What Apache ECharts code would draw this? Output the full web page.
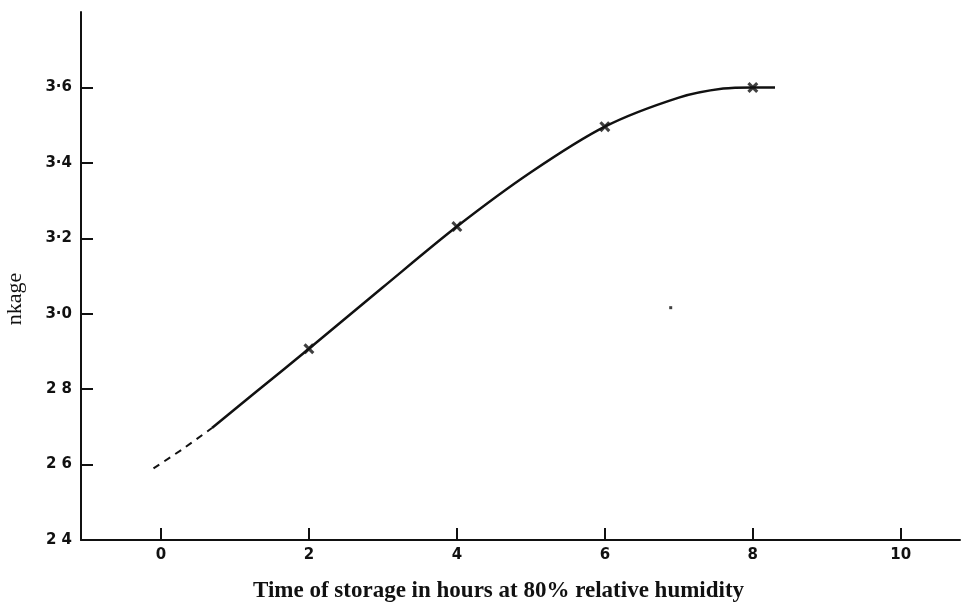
<!DOCTYPE html>
<html>
<head>
<meta charset="utf-8">
<script src="https://cdn.jsdelivr.net/npm/echarts@6/dist/echarts.min.js"></script>
<style>html,body{margin:0;padding:0;background:#fff;}#c{width:961px;height:607px;}</style>
</head>
<body>
<div id="c"></div>
<script>
// Data
const xTicks = [0, 2, 4, 6, 8, 10];
const yTicks = [2.4, 2.6, 2.8, 3.0, 3.2, 3.4, 3.6];
const yTickLabels = ['2 4', '2 6', '2 8', '3·0', '3·2', '3·4', '3·6'];
const curveDashedX = [-0.1, 0.3, 0.69];
const curveDashedY = [2.59, 2.642, 2.697];
const curveX = [0.69, 1.3, 2, 3, 4, 5, 6, 7, 7.6, 8, 8.3];
const curveY = [2.697, 2.795, 2.907, 3.07, 3.231, 3.375, 3.496, 3.573, 3.597, 3.6, 3.6];
const markerX = [2, 4, 6, 8];
const markerY = [2.907, 3.231, 3.496, 3.6];
const speckX = [6.89];
const speckY = [3.016];
const xTitle = 'Time of storage in hours at 80% relative humidity';
const yTitle = 'nkage';

const pairs = (xs, ys) => xs.map((x, i) => [x, ys[i]]);
const crossPath = 'path://M0,2 L2,0 L5,3 L8,0 L10,2 L7,5 L10,8 L8,10 L5,7 L2,10 L0,8 L3,5 Z';

const chart = echarts.init(document.getElementById('c'), null, {renderer: 'canvas'});
chart.setOption({
  animation: false,
  backgroundColor: '#ffffff',
  grid: {left: 81, right: 1, top: 12, bottom: 67, containLabel: false},
  xAxis: {
    type: 'value', min: -1.08, max: 10.8,
    axisLine: {show: true, onZero: false, lineStyle: {color: '#111', width: 2}},
    axisTick: {show: true, inside: true, length: 12, customValues: xTicks, lineStyle: {color: '#111', width: 2}},
    axisLabel: {customValues: xTicks, margin: 8, color: '#111', fontSize: 15, fontWeight: 'bold', fontFamily: 'DejaVu Sans'},
    splitLine: {show: false}
  },
  yAxis: {
    type: 'value', min: 2.4, max: 3.8,
    axisLine: {show: true, onZero: false, lineStyle: {color: '#111', width: 2}},
    axisTick: {show: true, inside: true, length: 12, customValues: yTicks, lineStyle: {color: '#111', width: 2}},
    axisLabel: {
      customValues: yTicks, margin: 9, color: '#111', fontSize: 15, fontWeight: 'bold', fontFamily: 'DejaVu Sans',
      formatter: v => { const i = yTicks.findIndex(t => Math.abs(t - v) < 1e-6); return i >= 0 ? yTickLabels[i] : ''; }
    },
    splitLine: {show: false}
  },
  graphic: [
    {type: 'text', x: 253, y: 580, style: {text: xTitle, fill: '#111', font: 'bold 23px "Liberation Serif"'}},
    {type: 'text', x: 15, y: 299, rotation: Math.PI / 2, style: {text: yTitle, fill: '#111', font: '22px "Liberation Serif"', align: 'center', verticalAlign: 'middle'}}
  ],
  series: [
    {type: 'line', data: pairs(curveDashedX, curveDashedY), smooth: 0.3, showSymbol: false,
     lineStyle: {color: '#111', width: 2, type: [7, 6]}},
    {type: 'line', data: pairs(curveX, curveY), smooth: 0.3, showSymbol: false,
     lineStyle: {color: '#111', width: 2.5}},
    {type: 'scatter', data: pairs(markerX, markerY), symbol: crossPath, symbolSize: 11,
     itemStyle: {color: '#111'}},
    {type: 'scatter', data: pairs(speckX, speckY), symbol: 'rect', symbolSize: 3, itemStyle: {color: '#111'}}
  ]
});
</script>
</body>
</html>
